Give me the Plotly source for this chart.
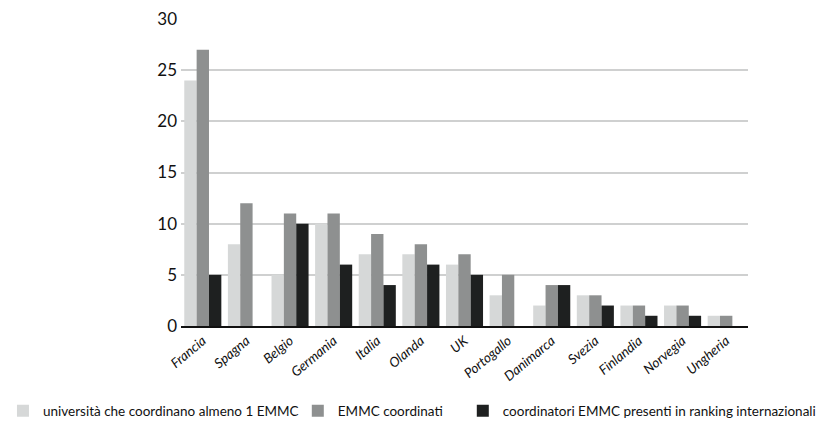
import plotly.graph_objects as go

paesi = ["Francia", "Spagna", "Belgio", "Germania", "Italia", "Olanda", "UK",
         "Portogallo", "Danimarca", "Svezia", "Finlandia", "Norvegia", "Ungheria"]
universita = [24, 8, 5, 10, 7, 7, 6, 3, 2, 3, 2, 2, 1]
emmc_coordinati = [27, 12, 11, 11, 9, 8, 7, 5, 4, 3, 2, 2, 1]
coordinatori_ranking = [5, 0, 10, 6, 4, 6, 5, 0, 4, 2, 1, 1, 0]
y_ticks = [0, 5, 10, 15, 20, 25, 30]

series = [
    ("università che coordinano almeno 1 EMMC", universita, "#d6d8d8", "legend", -0.314),
    ("EMMC coordinati", emmc_coordinati, "#8e9090", "legend2", 0.206),
    ("coordinatori EMMC presenti in ranking internazionali", coordinatori_ranking, "#1e2020", "legend3", 0.497),
]

fig = go.Figure()
legends = {}
for name, vals, col, lg, lx in series:
    fig.add_trace(go.Bar(x=paesi, y=vals, name=name, legend=lg,
                         marker=dict(color=col, line=dict(width=0))))
    legends[lg] = dict(orientation="h", x=lx, xanchor="left", y=-0.226, yanchor="top",
                       font=dict(size=13.5), itemwidth=30, bgcolor="rgba(0,0,0,0)")

fig.update_layout(
    width=825, height=425,
    paper_bgcolor="white", plot_bgcolor="white",
    margin=dict(l=173, r=85, t=11, b=107, autoexpand=False),
    barmode="group", bargap=0.15, bargroupgap=0,
    font=dict(family="Lato, Open Sans, sans-serif", color="#111"),
    xaxis=dict(tickangle=-40, tickfont=dict(size=13.5, style="italic"), showline=True,
               linecolor="#111", linewidth=1.5, ticks=""),
    yaxis=dict(range=[0, 30], tickvals=y_ticks, tickfont=dict(size=17),
               showgrid=True, gridcolor="#cfd0d0", gridwidth=1.5, zeroline=False,
               ticklen=0, ticklabelstandoff=3, ticklabeloverflow="allow"),
    showlegend=True,
    **legends,
)
fig.write_html("out.html")
